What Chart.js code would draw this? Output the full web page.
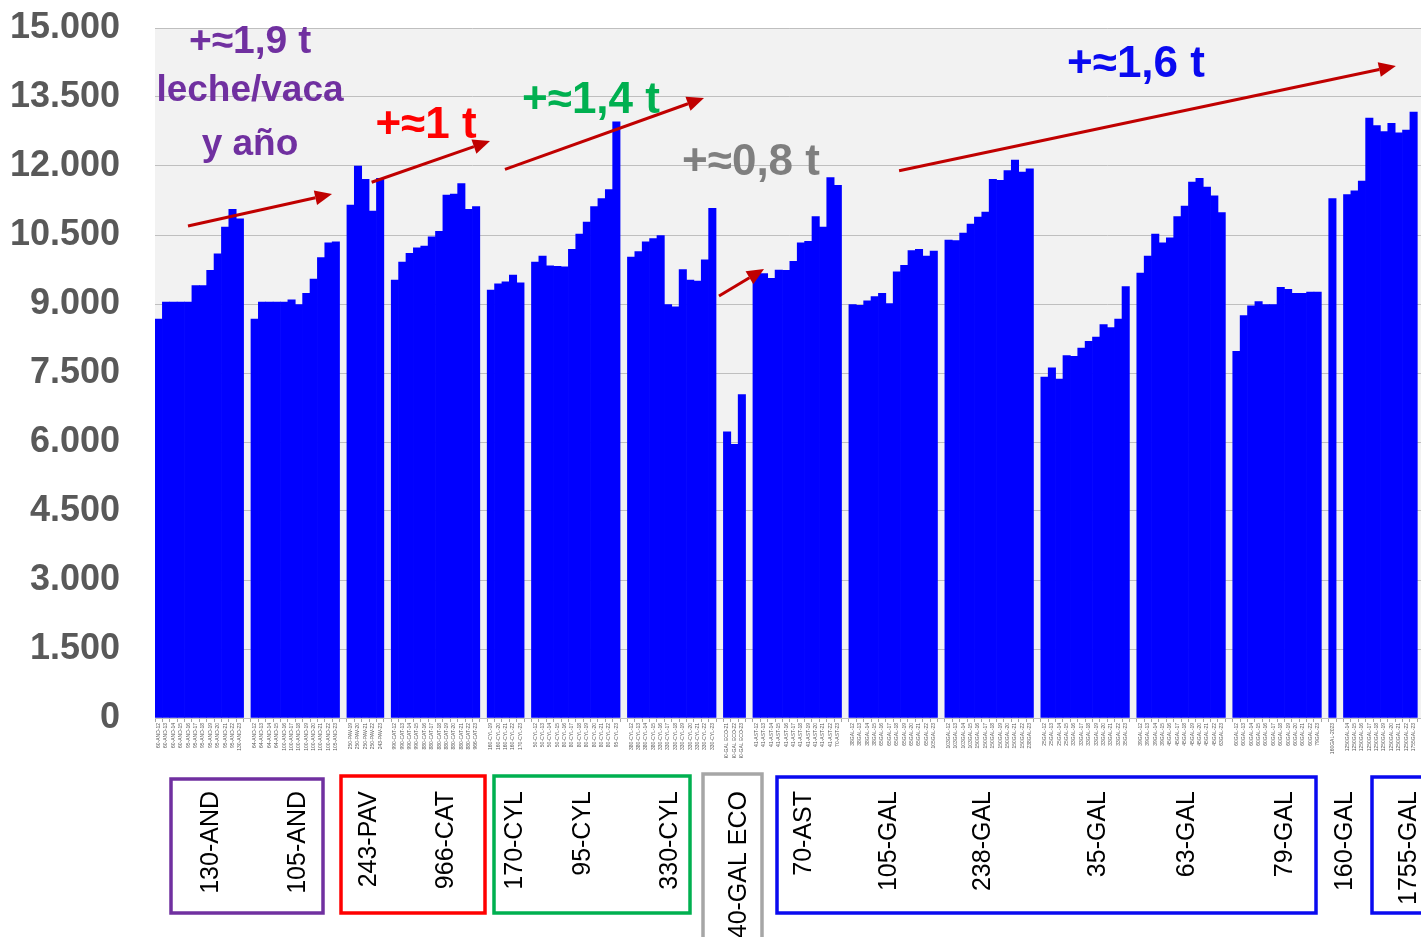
<!DOCTYPE html>
<html>
<head>
<meta charset="utf-8">
<script src="https://cdn.jsdelivr.net/npm/chart.js@4"></script>
<style>
  html, body { margin: 0; padding: 0; background: #fff; overflow: hidden; }
  #wrap { position: relative; width: 1428px; height: 937px; }
</style>
</head>
<body>
<div id="wrap"><canvas id="grafico" width="1428" height="937"></canvas></div>
<script>
// Etiquetas y valores por grupo (kg leche/vaca y año)
const etq130AND = ['60-AND-12', '60-AND-13', '60-AND-14', '60-AND-15', '95-AND-16', '95-AND-17', '95-AND-18', '95-AND-19', '95-AND-20', '95-AND-21', '95-AND-22', '130-AND-23'];
const val130AND = [8670, 9040, 9040, 9040, 9040, 9400, 9400, 9730, 10090, 10670, 11060, 10850];

const etq105AND = ['64-AND-12', '64-AND-13', '64-AND-14', '64-AND-15', '100-AND-16', '100-AND-17', '100-AND-18', '100-AND-19', '100-AND-20', '100-AND-21', '100-AND-22', '105-AND-23'];
const val105AND = [8670, 9040, 9040, 9040, 9040, 9090, 8990, 9230, 9540, 10010, 10330, 10350];

const etq243PAV = ['250-PAV-19', '250-PAV-20', '250-PAV-21', '250-PAV-22', '243-PAV-23'];
const val243PAV = [11150, 12000, 11710, 11020, 11730];

const etq966CAT = ['990-CAT-12', '990-CAT-13', '990-CAT-14', '990-CAT-15', '880-CAT-16', '880-CAT-17', '880-CAT-18', '880-CAT-19', '880-CAT-20', '880-CAT-21', '880-CAT-22', '966-CAT-23'];
const val966CAT = [9520, 9910, 10100, 10220, 10260, 10460, 10580, 11370, 11390, 11620, 11060, 11120];

const etq170CYL = ['160-CYL-19', '160-CYL-20', '160-CYL-21', '160-CYL-22', '170-CYL-23'];
const val170CYL = [9300, 9440, 9480, 9630, 9460];

const etq95CYL = ['50-CYL-12', '50-CYL-13', '50-CYL-14', '50-CYL-15', '80-CYL-16', '80-CYL-17', '80-CYL-18', '80-CYL-19', '80-CYL-20', '80-CYL-21', '80-CYL-22', '95-CYL-23'];
const val95CYL = [9910, 10040, 9830, 9820, 9810, 10190, 10520, 10780, 11120, 11290, 11490, 12960];

const etq330CYL = ['380-CYL-12', '380-CYL-13', '380-CYL-14', '380-CYL-15', '330-CYL-16', '330-CYL-17', '330-CYL-18', '330-CYL-19', '330-CYL-20', '330-CYL-21', '330-CYL-22', '330-CYL-23'];
const val330CYL = [10020, 10140, 10350, 10420, 10490, 8990, 8940, 9750, 9520, 9500, 9960, 11080];

const etq40GAL = ['40-GAL ECO-21', '40-GAL ECO-22', '40-GAL ECO-23'];
const val40GAL = [6220, 5950, 7030];

const etq70AST = ['41-AST-12', '41-AST-13', '41-AST-14', '41-AST-15', '41-AST-16', '41-AST-17', '41-AST-18', '41-AST-19', '41-AST-20', '41-AST-21', '41-AST-22', '70-AST-23'];
const val70AST = [9670, 9660, 9560, 9740, 9730, 9930, 10330, 10360, 10900, 10670, 11750, 11580];

const etq105GAL = ['38GAL-12', '38GAL-13', '38GAL-14', '38GAL-15', '65GAL-16', '65GAL-17', '65GAL-18', '65GAL-19', '65GAL-20', '65GAL-21', '65GAL-22', '105GAL-23'];
const val105GAL = [8990, 8970, 9070, 9160, 9230, 9010, 9700, 9840, 10160, 10190, 10040, 10150];

const etq238GAL = ['103GAL-12', '103GAL-13', '103GAL-14', '103GAL-15', '150GAL-16', '150GAL-17', '150GAL-18', '150GAL-19', '150GAL-20', '150GAL-21', '150GAL-22', '238GAL-23'];
const val238GAL = [10390, 10380, 10540, 10740, 10890, 11000, 11710, 11690, 11900, 12130, 11870, 11940];

const etq35GAL = ['25GAL-12', '25GAL-13', '25GAL-14', '25GAL-15', '33GAL-16', '33GAL-17', '33GAL-18', '33GAL-19', '33GAL-20', '33GAL-21', '33GAL-22', '35GAL-23'];
const val35GAL = [7410, 7610, 7370, 7880, 7860, 8040, 8190, 8280, 8550, 8490, 8670, 9380];

const etq63GAL = ['39GAL-12', '39GAL-13', '39GAL-14', '39GAL-15', '45GAL-16', '45GAL-17', '45GAL-18', '45GAL-19', '45GAL-20', '45GAL-21', '45GAL-22', '63GAL-23'];
const val63GAL = [9670, 10040, 10520, 10330, 10440, 10900, 11130, 11650, 11730, 11540, 11350, 10990];

const etq79GAL = ['60GAL-12', '60GAL-13', '60GAL-14', '60GAL-15', '60GAL-16', '60GAL-17', '60GAL-18', '60GAL-19', '60GAL-20', '60GAL-21', '60GAL-22', '79GAL-23'];
const val79GAL = [7970, 8750, 8960, 9050, 8990, 8990, 9360, 9320, 9230, 9230, 9260, 9260];

const etq160GAL = ['160GAL-2023'];
const val160GAL = [11290];

const etq1755GAL = ['1250GAL-14', '1250GAL-15', '1250GAL-16', '1250GAL-17', '1250GAL-18', '1250GAL-19', '1250GAL-20', '1250GAL-21', '1250GAL-22', '1755GAL-23'];
const val1755GAL = [11380, 11460, 11670, 13040, 12880, 12750, 12930, 12720, 12780, 13170];

// Eje Y
const yMin = 0;
const yMax = 15000;
const yPaso = 1500;

// Nombres de los grupos bajo el gráfico
const nombresGrupos = ['130-AND', '105-AND', '243-PAV', '966-CAT', '170-CYL', '95-CYL', '330-CYL', '40-GAL ECO', '70-AST', '105-GAL', '238-GAL', '35-GAL', '63-GAL', '79-GAL', '160-GAL', '1755-GAL'];

// Unir grupos con una categoría vacía entre ellos
const grupos = [
  [etq130AND, val130AND], [etq105AND, val105AND], [etq243PAV, val243PAV], [etq966CAT, val966CAT],
  [etq170CYL, val170CYL], [etq95CYL, val95CYL], [etq330CYL, val330CYL], [etq40GAL, val40GAL],
  [etq70AST, val70AST], [etq105GAL, val105GAL], [etq238GAL, val238GAL], [etq35GAL, val35GAL],
  [etq63GAL, val63GAL], [etq79GAL, val79GAL], [etq160GAL, val160GAL], [etq1755GAL, val1755GAL]
];
const categorias = [];
const valores = [];
grupos.forEach(([etq, val], i) => {
  if (i > 0) { categorias.push(''); valores.push(null); }
  categorias.push(...etq);
  valores.push(...val);
});
categorias.push(''); valores.push(null); // hueco final (gráfico cortado a la derecha)

// Flechas (x = índice de categoría, y = valor)
const flechas = [
  { x1: 3.97, y1: 10696, x2: 23.48, y2: 11391 },
  { x1: 28.85, y1: 11646, x2: 44.88, y2: 12543 },
  { x1: 46.91, y1: 11928, x2: 73.87, y2: 13478 },
  { x1: 75.9, y1: 9174, x2: 82.0, y2: 9761 },
  { x1: 100.3, y1: 11898, x2: 167.6, y2: 14174 }
];

// Textos de incremento
const textos = [
  { t: '+≈1,9 t', x: 12.37, y: 14457, color: '#7030A0', size: 39 },
  { t: 'leche/vaca', x: 12.37, y: 13413, color: '#7030A0', size: 37 },
  { t: 'y año', x: 12.37, y: 12239, color: '#7030A0', size: 37 },
  { t: '+≈1 t', x: 36.21, y: 12609, color: '#FF0000', size: 44 },
  { t: '+≈1,4 t', x: 58.56, y: 13152, color: '#00B050', size: 44 },
  { t: '+≈0,8 t', x: 80.24, y: 11804, color: '#7F7F7F', size: 44 },
  { t: '+≈1,6 t', x: 132.39, y: 13935, color: '#0A0AF0', size: 44 }
];

// Cajas y rótulos bajo el gráfico (píxeles)
const cajas = [
  { x1: 171, x2: 323, y1: 779, y2: 913, color: '#7030A0' },
  { x1: 341, x2: 485, y1: 776, y2: 913, color: '#FF0000' },
  { x1: 494, x2: 690, y1: 776, y2: 913, color: '#00B050' },
  { x1: 703, x2: 762, y1: 774, y2: 945, color: '#A6A6A6' },
  { x1: 777, x2: 1316, y1: 777, y2: 913, color: '#0A0AF0' },
  { x1: 1372, x2: 1440, y1: 777, y2: 913, color: '#0A0AF0' }
];
const posRotulos = [210, 297, 368, 445, 514, 582, 669, 738, 803, 888, 982, 1097, 1186, 1284, 1344, 1408];

const decoraciones = {
  id: 'decoraciones',
  beforeDraw(chart) {
    const { ctx, chartArea: a } = chart;
    ctx.save();
    ctx.fillStyle = '#F2F2F2';
    ctx.fillRect(a.left, a.top, a.right - a.left, a.bottom - a.top);
    ctx.restore();
  },
  afterDraw(chart) {
    const { ctx, scales: { x, y } } = chart;
    ctx.save();

    // flechas rojas
    ctx.strokeStyle = '#C00000';
    ctx.fillStyle = '#C00000';
    ctx.lineWidth = 3;
    flechas.forEach(f => {
      const x1 = x.getPixelForValue(f.x1), y1 = y.getPixelForValue(f.y1);
      const x2 = x.getPixelForValue(f.x2), y2 = y.getPixelForValue(f.y2);
      const ang = Math.atan2(y2 - y1, x2 - x1);
      const largo = 17, ancho = 7.5;
      const bx = x2 - largo * Math.cos(ang), by = y2 - largo * Math.sin(ang);
      ctx.beginPath();
      ctx.moveTo(x1, y1);
      ctx.lineTo(bx, by);
      ctx.stroke();
      ctx.beginPath();
      ctx.moveTo(x2, y2);
      ctx.lineTo(bx + ancho * Math.sin(ang), by - ancho * Math.cos(ang));
      ctx.lineTo(bx - ancho * Math.sin(ang), by + ancho * Math.cos(ang));
      ctx.closePath();
      ctx.fill();
    });

    // textos
    ctx.textAlign = 'center';
    ctx.textBaseline = 'alphabetic';
    textos.forEach(t => {
      ctx.font = `bold ${t.size}px "Liberation Sans", Arial, sans-serif`;
      ctx.fillStyle = t.color;
      ctx.fillText(t.t, x.getPixelForValue(t.x), y.getPixelForValue(t.y));
    });

    // cajas inferiores
    ctx.lineWidth = 3.5;
    cajas.forEach(c => {
      ctx.strokeStyle = c.color;
      ctx.strokeRect(c.x1, c.y1, c.x2 - c.x1, c.y2 - c.y1);
    });

    // rótulos de grupo, girados
    ctx.fillStyle = '#000';
    ctx.font = '25px "Liberation Sans", Arial, sans-serif';
    ctx.textAlign = 'right';
    ctx.textBaseline = 'middle';
    nombresGrupos.forEach((n, i) => {
      ctx.save();
      ctx.translate(posRotulos[i], 791);
      ctx.rotate(-Math.PI / 2);
      ctx.fillText(n, 0, 1);
      ctx.restore();
    });

    ctx.restore();
  }
};

new Chart(document.getElementById('grafico'), {
  type: 'bar',
  data: {
    labels: categorias,
    datasets: [{
      data: valores,
      backgroundColor: '#0000FF',
      borderWidth: 0,
      barPercentage: 1,
      categoryPercentage: 1
    }]
  },
  options: {
    responsive: false,
    devicePixelRatio: 1,
    animation: false,
    layout: { padding: { top: 28, bottom: 179, left: 0, right: 0 } },
    plugins: {
      legend: { display: false },
      tooltip: { enabled: false }
    },
    scales: {
      x: {
        grid: { drawOnChartArea: false, drawTicks: true, tickLength: 4, color: '#A6A6A6' },
        border: { display: false },
        ticks: {
          autoSkip: false,
          maxRotation: 90,
          minRotation: 90,
          padding: 1,
          color: '#595959',
          font: { family: '"Liberation Sans", Arial, sans-serif', size: 5 }
        },
        afterFit(scale) { scale.height = 40; }
      },
      y: {
        min: yMin,
        max: yMax,
        grid: { color: '#BFBFBF', drawTicks: true, tickLength: 35, tickColor: 'rgba(0,0,0,0)' },
        border: { display: false },
        ticks: {
          stepSize: yPaso,
          padding: 0,
          color: '#595959',
          font: { family: '"Liberation Sans", Arial, sans-serif', size: 36, weight: 'bold' },
          callback: v => v.toLocaleString('de-DE')
        },
        afterFit(scale) { scale.width = 155; }
      }
    }
  },
  plugins: [decoraciones]
});
</script>
</body>
</html>
